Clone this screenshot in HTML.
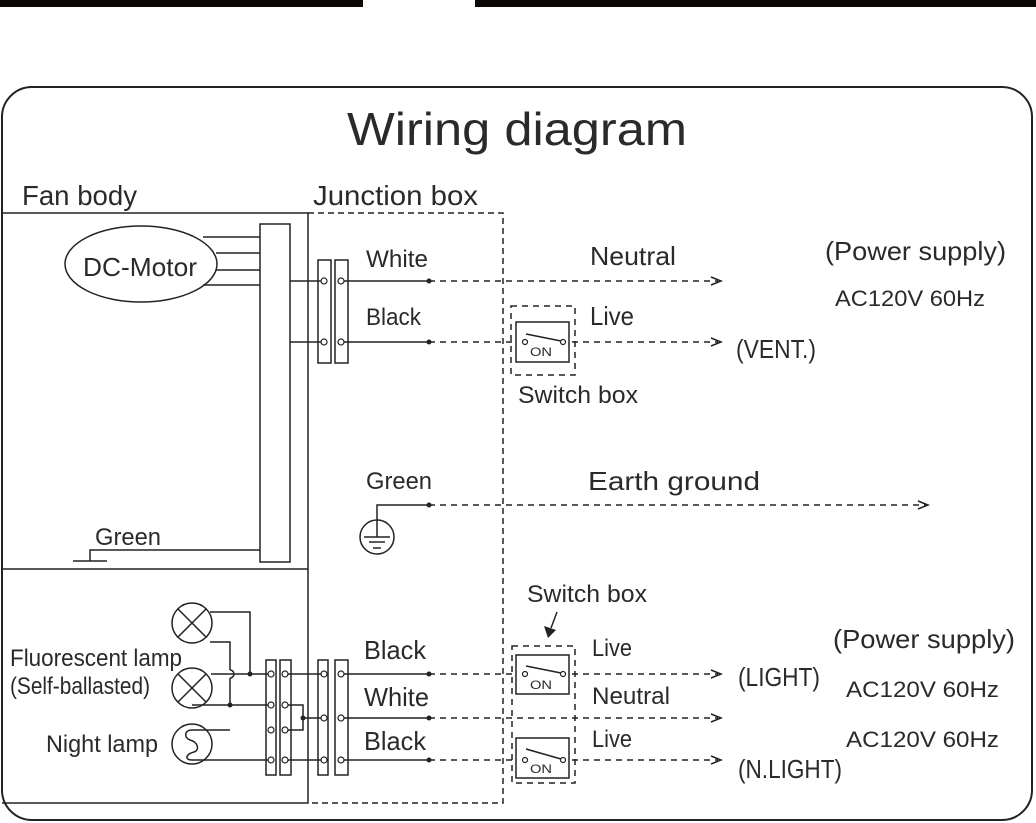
<!DOCTYPE html>
<html><head><meta charset="utf-8"><style>
html,body{margin:0;padding:0;background:#fff;}
svg{display:block;}
text{font-family:"Liberation Sans",sans-serif;fill:#2a2a2a;}
</style></head><body>
<svg width="1036" height="823" viewBox="0 0 1036 823" xmlns="http://www.w3.org/2000/svg">
<rect x="0" y="0" width="363" height="7" fill="#0d0806"/>
<rect x="475" y="0" width="561" height="7" fill="#0d0806"/>
<rect x="2" y="87" width="1030" height="733" rx="30" ry="30" fill="none" stroke="#222" stroke-width="2"/>

<text x="347" y="145" font-size="46" textLength="340" lengthAdjust="spacingAndGlyphs">Wiring diagram</text>
<text x="22" y="205" font-size="28" textLength="115" lengthAdjust="spacingAndGlyphs">Fan body</text>
<text x="313" y="205" font-size="28" textLength="165" lengthAdjust="spacingAndGlyphs">Junction box</text>

<g fill="none" stroke="#222" stroke-width="1.5">
<polyline points="2,213 308,213 308,803 2,803"/>
<line x1="2" y1="569" x2="308" y2="569"/>
<polyline points="308,213 503,213 503,803 308,803" stroke-dasharray="6,4"/>
<ellipse cx="141" cy="264" rx="76" ry="38"/>
<line x1="203" y1="237" x2="260" y2="237"/>
<line x1="216" y1="253" x2="260" y2="253"/>
<line x1="216" y1="270" x2="260" y2="270"/>
<line x1="203" y1="285" x2="260" y2="285"/>
<rect x="260" y="224" width="30" height="338"/>
<line x1="290" y1="281" x2="321" y2="281"/>
<line x1="290" y1="342" x2="321" y2="342"/>
<rect x="318" y="260" width="13" height="103"/>
<rect x="335" y="260" width="13" height="103"/>
<line x1="344" y1="281" x2="429" y2="281"/>
<line x1="344" y1="342" x2="429" y2="342"/>
<polyline points="260,550 90,550 90,561"/>
<line x1="73" y1="561" x2="107" y2="561"/>
<polyline points="429,505 377,505 377,537"/>
<circle cx="377" cy="537" r="17"/>
<line x1="364" y1="537" x2="390" y2="537"/>
<line x1="369" y1="542" x2="385" y2="542"/>
<line x1="373" y1="548" x2="381" y2="548"/>

<g stroke-dasharray="6,5">
<line x1="429" y1="281" x2="718" y2="281"/>
<line x1="429" y1="342" x2="718" y2="342"/>
<line x1="429" y1="505" x2="926" y2="505"/>
<rect x="511" y="306" width="64" height="69"/>
</g>
<polyline points="711,277 721,281 711,285"/>
<polyline points="711,338 721,342 711,346"/>
<polyline points="918,501 928,505 918,509"/>
<rect x="516" y="322" width="53" height="40" fill="#fff"/>
<line x1="526" y1="334" x2="561" y2="341"/>

<circle cx="192" cy="623" r="20"/>
<line x1="178" y1="609" x2="206" y2="637"/><line x1="206" y1="609" x2="178" y2="637"/>
<circle cx="192" cy="688" r="20"/>
<line x1="178" y1="674" x2="206" y2="702"/><line x1="206" y1="674" x2="178" y2="702"/>
<circle cx="192" cy="744" r="20"/>
<polyline points="210,612 250,612 250,674"/>
<polyline points="210,642 230,642 230,670"/>
<path d="M230,670 a4,4 0 0 1 0,8"/>
<line x1="230" y1="678" x2="230" y2="705"/>
<line x1="211" y1="674" x2="268" y2="674"/>
<line x1="192" y1="705" x2="268" y2="705"/>
<path d="M230,730 L192,730 C184,730 184,738 190,740 C198,742 200,750 194,752 C186,754 184,760 192,760 L268,760"/>
<rect x="266" y="660" width="10" height="115"/>
<rect x="280" y="660" width="11" height="115"/>
<line x1="285" y1="674" x2="321" y2="674"/>
<polyline points="285,705 303,705 303,730 285,730"/>
<line x1="303" y1="718" x2="321" y2="718"/>
<line x1="285" y1="760" x2="321" y2="760"/>
<rect x="318" y="660" width="10" height="115"/>
<rect x="335" y="660" width="13" height="115"/>
<line x1="341" y1="674" x2="429" y2="674"/>
<line x1="341" y1="718" x2="429" y2="718"/>
<line x1="341" y1="760" x2="429" y2="760"/>
<g stroke-dasharray="6,5">
<line x1="429" y1="674" x2="718" y2="674"/>
<line x1="429" y1="718" x2="718" y2="718"/>
<line x1="429" y1="760" x2="718" y2="760"/>
<rect x="512" y="646" width="63" height="137"/>
</g>
<polyline points="711,670 721,674 711,678"/>
<polyline points="711,714 721,718 711,722"/>
<polyline points="711,756 721,760 711,764"/>
<rect x="516" y="655" width="53" height="39" fill="#fff"/>
<line x1="526" y1="666" x2="561" y2="673"/>
<rect x="516" y="738" width="53" height="40" fill="#fff"/>
<line x1="526" y1="749" x2="561" y2="759"/>
<line x1="557" y1="612" x2="551" y2="628"/>
</g>
<polygon points="544,626 556,630 548,638" fill="#222"/>

<g fill="#fff" stroke="#222" stroke-width="1.2">
<circle cx="324" cy="281" r="3"/><circle cx="341" cy="281" r="3"/>
<circle cx="324" cy="342" r="3"/><circle cx="341" cy="342" r="3"/>
<circle cx="271" cy="674" r="3"/><circle cx="285" cy="674" r="3"/>
<circle cx="271" cy="705" r="3"/><circle cx="285" cy="705" r="3"/>
<circle cx="271" cy="730" r="3"/><circle cx="285" cy="730" r="3"/>
<circle cx="271" cy="760" r="3"/><circle cx="285" cy="760" r="3"/>
<circle cx="324" cy="674" r="3"/><circle cx="341" cy="674" r="3"/>
<circle cx="324" cy="718" r="3"/><circle cx="341" cy="718" r="3"/>
<circle cx="324" cy="760" r="3"/><circle cx="341" cy="760" r="3"/>
<circle cx="525" cy="342" r="2.5"/><circle cx="563" cy="342" r="2.5"/>
<circle cx="525" cy="674" r="2.5"/><circle cx="563" cy="674" r="2.5"/>
<circle cx="525" cy="760" r="2.5"/><circle cx="563" cy="760" r="2.5"/>
</g>
<g fill="#222">
<circle cx="429" cy="281" r="2.5"/><circle cx="429" cy="342" r="2.5"/><circle cx="429" cy="505" r="2.5"/>
<circle cx="429" cy="674" r="2.5"/><circle cx="429" cy="718" r="2.5"/><circle cx="429" cy="760" r="2.5"/>
<circle cx="250" cy="674" r="2.5"/><circle cx="230" cy="705" r="2.5"/><circle cx="303" cy="718" r="2.5"/>
</g>

<text x="83" y="276" font-size="26" textLength="114" lengthAdjust="spacingAndGlyphs">DC-Motor</text>
<text x="366" y="267" font-size="24" textLength="62" lengthAdjust="spacingAndGlyphs">White</text>
<text x="366" y="325" font-size="24" textLength="55" lengthAdjust="spacingAndGlyphs">Black</text>
<text x="590" y="265" font-size="26" textLength="86" lengthAdjust="spacingAndGlyphs">Neutral</text>
<text x="590" y="325" font-size="26" textLength="44" lengthAdjust="spacingAndGlyphs">Live</text>
<text x="825" y="260" font-size="26" textLength="181" lengthAdjust="spacingAndGlyphs">(Power supply)</text>
<text x="835" y="306" font-size="22" textLength="150" lengthAdjust="spacingAndGlyphs">AC120V  60Hz</text>
<text x="736" y="358" font-size="26" textLength="80" lengthAdjust="spacingAndGlyphs">(VENT.)</text>
<text x="518" y="403" font-size="24" textLength="120" lengthAdjust="spacingAndGlyphs">Switch box</text>
<text x="530" y="356" font-size="12" textLength="22" lengthAdjust="spacingAndGlyphs">ON</text>
<text x="530" y="689" font-size="12" textLength="22" lengthAdjust="spacingAndGlyphs">ON</text>
<text x="530" y="773" font-size="12" textLength="22" lengthAdjust="spacingAndGlyphs">ON</text>
<text x="366" y="489" font-size="24" textLength="66" lengthAdjust="spacingAndGlyphs">Green</text>
<text x="588" y="490" font-size="26" textLength="172" lengthAdjust="spacingAndGlyphs">Earth ground</text>
<text x="95" y="545" font-size="24" textLength="66" lengthAdjust="spacingAndGlyphs">Green</text>
<text x="527" y="602" font-size="24" textLength="120" lengthAdjust="spacingAndGlyphs">Switch box</text>
<text x="592" y="656" font-size="24" textLength="40" lengthAdjust="spacingAndGlyphs">Live</text>
<text x="592" y="704" font-size="24" textLength="78" lengthAdjust="spacingAndGlyphs">Neutral</text>
<text x="592" y="747" font-size="24" textLength="40" lengthAdjust="spacingAndGlyphs">Live</text>
<text x="833" y="648" font-size="26" textLength="182" lengthAdjust="spacingAndGlyphs">(Power supply)</text>
<text x="846" y="697" font-size="22" textLength="153" lengthAdjust="spacingAndGlyphs">AC120V  60Hz</text>
<text x="846" y="747" font-size="22" textLength="153" lengthAdjust="spacingAndGlyphs">AC120V  60Hz</text>
<text x="738" y="686" font-size="26" textLength="82" lengthAdjust="spacingAndGlyphs">(LIGHT)</text>
<text x="738" y="778" font-size="26" textLength="104" lengthAdjust="spacingAndGlyphs">(N.LIGHT)</text>
<text x="364" y="659" font-size="26" textLength="62" lengthAdjust="spacingAndGlyphs">Black</text>
<text x="364" y="706" font-size="26" textLength="65" lengthAdjust="spacingAndGlyphs">White</text>
<text x="364" y="750" font-size="26" textLength="62" lengthAdjust="spacingAndGlyphs">Black</text>
<text x="10" y="666" font-size="24" textLength="172" lengthAdjust="spacingAndGlyphs">Fluorescent lamp</text>
<text x="10" y="694" font-size="24" textLength="140" lengthAdjust="spacingAndGlyphs">(Self-ballasted)</text>
<text x="46" y="752" font-size="24" textLength="112" lengthAdjust="spacingAndGlyphs">Night lamp</text>
</svg>
</body></html>
